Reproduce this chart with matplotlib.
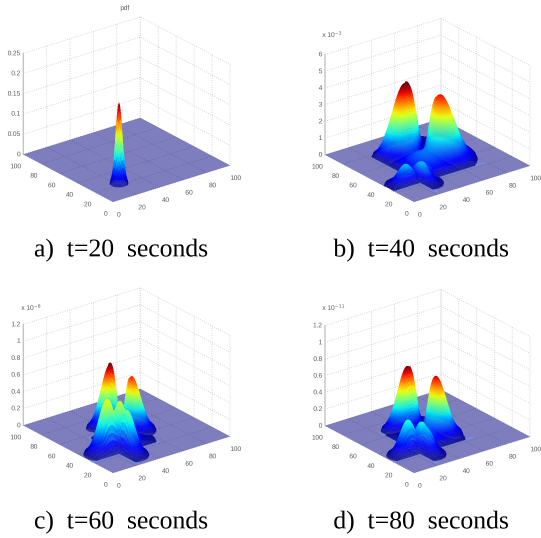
import io
import numpy as np
import matplotlib
matplotlib.use("Agg")
import matplotlib.pyplot as plt
from matplotlib import cm
from mpl_toolkits.mplot3d import proj3d
from mpl_toolkits.mplot3d.art3d import Poly3DCollection

# The reference's surfaces cannot be read cell by cell. Each is approximated by
# peaks whose position, height, width and apex colour were estimated from the picture.
captions = ["a)  t=20  seconds", "b)  t=40  seconds", "c)  t=60  seconds", "d)  t=80  seconds"]
z_tops = [0.25, 6, 1.2, 1.2]
z_tick_labels = [["0", "0.05", "0.1", "0.15", "0.2", "0.25"],
                 ["0", "1", "2", "3", "4", "5", "6"],
                 ["0", "0.2", "0.4", "0.6", "0.8", "1", "1.2"],
                 ["0", "0.2", "0.4", "0.6", "0.8", "1", "1.2"]]
z_ticks = [[0, .05, .1, .15, .2, .25], [0, 1, 2, 3, 4, 5, 6],
           [0, .2, .4, .6, .8, 1, 1.2], [0, .2, .4, .6, .8, 1, 1.2]]
multipliers = [None, r"x 10$^{-3}$", r"x 10$^{-8}$", r"x 10$^{-11}$"]
xy_ticks = [0, 20, 40, 60, 80, 100]
CUT = 23

# each peak: centre x, centre y, height, sigma x, sigma y, apex colour level, region
peaks_a = [(22, 22, 0.20, 2.3, 2.3, 1.0, "all")]
peaks_b = [(45, 69, 4.1, 10, 6, 1.0, "back1"), (64, 54, 3.4, 8, 12, 0.86, "back2"),
           (42, 42, 0.9, 13, 13, 0.24, "back"),
           (15, 29, 1.12, 6, 4.5, 0.32, "left"), (27, 24, 0.80, 4.5, 6, 0.25, "right")]
peaks_c = [(48, 66, 0.71, 7, 4, 1.0, "back1"), (58, 55, 0.59, 5, 8, 0.88, "back2"),
           (37, 37, 0.16, 8.5, 8.5, 0.22, "back"),
           (18, 30, 0.63, 6.5, 5, 0.65, "left"), (28, 21, 0.51, 5, 6.5, 0.50, "right")]
peaks_d = [(45, 66, 0.71, 8, 4.2, 1.0, "back1"), (56.5, 49, 0.61, 5.5, 9, 0.88, "back2"),
           (40, 40, 0.16, 10.5, 10.5, 0.22, "back"),
           (17, 29, 0.40, 6, 4.5, 0.40, "left"), (28, 22.5, 0.29, 4.5, 6, 0.32, "right")]
all_peaks = [peaks_a, peaks_b, peaks_c, peaks_d]
# the valley between the two large lobes: x - y at its line, and its width
valleys = [None, (-7, 7), (-8, 5), (-7, 6)]
# faint lines on the floor along the cuts: (x start, x end) at y=CUT, (y start, y end) at x=CUT
floor_x_extent = [(16, 29), (0, 79), (0, 57), (0, 68)]
floor_y_extent = [(16, 29), (3, 75), (2, 57), (3, 68)]

# target pixels (from the top-left): front corner and right corner of the floor
front_px = [(113, 202), (414, 202), (113, 473), (414, 473)]
right_px = [(230, 163), (530, 163), (230, 437), (530, 437)]
cap_xy = [(121, 250), (421, 250), (121, 522), (421, 522)]
mult_xy = [None, (322, 35), (21, 308), (322, 308)]

W, H = 541, 538
fig = plt.figure(figsize=(W / 100, H / 100), dpi=100, facecolor="white")
grid = np.arange(0, 100.25, 0.5)
X, Y = np.meshgrid(grid, grid)
TXT = "#5a5a5a"
SANS = "Liberation Sans"


def surface(peaks, valley):
    Z = np.zeros_like(X)
    C = np.zeros_like(X)
    ramp_x = np.clip((X - CUT) / 3, 0, 1)
    ramp_y = np.clip((Y - CUT) / 3, 0, 1)
    for (px, py, h, sx, sy, level, region) in peaks:
        r2 = (X - px) ** 2 / sx ** 2 + (Y - py) ** 2 / sy ** 2
        shape = np.exp(-r2 / 2)
        shape[r2 > 2.6 ** 2] = 0
        if region.startswith("back"):
            shape = shape * ramp_x * ramp_y
        elif region == "left":
            shape = shape * ramp_y
        elif region == "right":
            shape = shape * ramp_x
        if valley and region in ("back1", "back2"):
            shape = shape * (1 - np.exp(-((X - Y - valley[0]) / valley[1]) ** 2))
        Z = Z + h * shape
        C = C + level * shape
    return Z, np.clip(C, 0, 1)


for i in range(4):
    ax = fig.add_axes([0.1, 0.1, 0.3, 0.3], projection="3d", proj_type="ortho")
    ax.patch.set_alpha(0)
    ax.computed_zorder = False
    ax.view_init(elev=24, azim=-127.5)
    ax.set_box_aspect((1, 1, 0.75), zoom=1)
    ax.set_xlim(0, 100, view_margin=0)
    ax.set_ylim(0, 100, view_margin=0)
    ax.set_zlim(0, z_tops[i], view_margin=0)
    ax.set_xticks(xy_ticks)
    ax.set_yticks(xy_ticks)
    ax.set_zticks(z_ticks[i])
    ax.set_zticklabels([])
    ax.tick_params(labelsize=4.8, colors=TXT, pad=-2.5, length=0)
    for lab in ax.get_xticklabels() + ax.get_yticklabels():
        lab.set_family(SANS)
    for a in (ax.xaxis, ax.yaxis, ax.zaxis):
        a.pane.set_facecolor((1, 1, 1, 0))
        a.pane.set_edgecolor((1, 1, 1, 0))
        a._axinfo["grid"].update(color="#c0c0c0", linewidth=0.55, linestyle=(0, (1, 2)))
        a._axinfo["tick"].update(inward_factor=0, outward_factor=0)
        a.line.set_color((1, 1, 1, 0))

    # z axis on the left corner, as in the reference
    ax.plot([0, 0], [100, 100], [0, z_tops[i]], color="#c4c4c4", lw=1.0, zorder=1)
    M = ax.get_proj()
    for t, lab in zip(z_ticks[i], z_tick_labels[i]):
        u, v, _ = proj3d.proj_transform(0, 100, t, M)
        ax.annotate(lab, (u, v), xytext=(-2, 0), textcoords="offset points", fontsize=4.8,
                    color=TXT, ha="right", va="center", family=SANS, annotation_clip=False)

    # the floor: lowest jet colour at half opacity
    ax.plot_surface(np.array([[0, 100], [0, 100]]), np.array([[0, 0], [100, 100]]),
                    np.zeros((2, 2)), color=cm.jet(0.0), alpha=0.5, shade=False,
                    linewidth=0, antialiased=True, zorder=2)
    ax.plot(floor_x_extent[i], [CUT, CUT], [0, 0], color=(0.42, 0.58, 0.92), lw=0.8, zorder=2.5)
    ax.plot([CUT, CUT], floor_y_extent[i], [0, 0], color=(0.42, 0.58, 0.92), lw=0.8, zorder=2.5)

    # the peaks, cell by cell, only where the surface leaves the floor
    Z, C = surface(all_peaks[i], valleys[i])
    verts, rgba = [], []
    for r in range(len(grid) - 1):
        for c in range(len(grid) - 1):
            if Z[r:r + 2, c:c + 2].max() <= 0:
                continue
            verts.append([(X[a, b], Y[a, b], Z[a, b]) for a, b in
                          ((r, c), (r, c + 1), (r + 1, c + 1), (r + 1, c))])
            level = float(C[r:r + 2, c:c + 2].mean())
            col = list(cm.jet(level))
            col[3] = 0.45 + 0.27 * min(level / 0.12, 1.0)
            rgba.append(col)
    ax.add_collection3d(Poly3DCollection(verts, facecolors=rgba, edgecolors="none",
                                         linewidths=0, antialiaseds=False, zorder=3))

    # scale and shift the axes so the floor corners land on the target pixels
    fig.canvas.draw()

    def to_px(x, y, z=0):
        u, v, _ = proj3d.proj_transform(x, y, z, ax.get_proj())
        return ax.transData.transform((u, v))
    f0, r0 = to_px(0, 0), to_px(100, 0)
    scale = (right_px[i][0] - front_px[i][0]) / (r0[0] - f0[0])
    p = ax.get_position()
    ax.set_position([p.x0, p.y0, p.width * scale, p.height * scale])
    fig.canvas.draw()
    f1 = to_px(0, 0)
    tx, ty = front_px[i][0], H - front_px[i][1]
    p = ax.get_position()
    ax.set_position([p.x0 + (tx - f1[0]) / W, p.y0 + (ty - f1[1]) / H, p.width, p.height])

    fig.text(cap_xy[i][0] / W, 1 - cap_xy[i][1] / H, captions[i], family="Liberation Serif",
             fontsize=18.5, ha="center", va="center", color="black")
    if mult_xy[i]:
        fig.text(mult_xy[i][0] / W, 1 - mult_xy[i][1] / H, multipliers[i], fontsize=4.8, color=TXT,
                 va="center", ha="left", family=SANS)

fig.text(125 / W, 1 - 8 / H, "pdf", fontsize=4.8, color=TXT, ha="center", va="center", family=SANS)
fig.savefig("out.png", dpi=100)

# render at three times the size and average down, so the fine cells blend smoothly
buf = io.BytesIO()
fig.savefig(buf, dpi=300, format="png")
buf.seek(0)
big = plt.imread(buf)[..., :3]
small = big[:H * 3, :W * 3].reshape(H, 3, W, 3, 3).mean(axis=(1, 3))
plt.imsave("out.png", np.clip(small, 0, 1))
